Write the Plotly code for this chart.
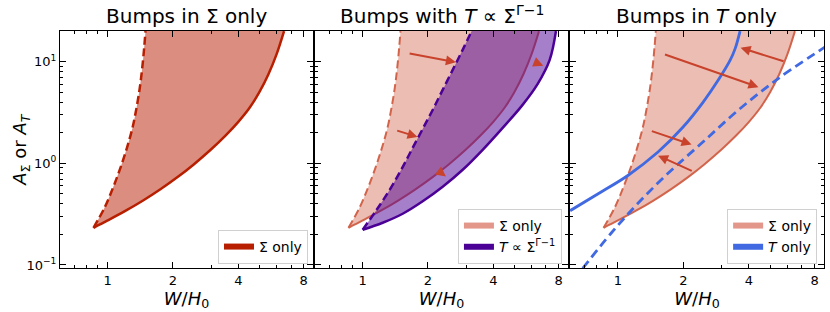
import plotly.graph_objects as go
import numpy as np

# ---------------- data ----------------
sig_dash_x = [0.86, 0.967, 1.058, 1.145, 1.227, 1.301, 1.358, 1.406, 1.443, 1.473, 1.494]
sig_dash_y = [0.232, 0.365, 0.574, 0.903, 1.42, 2.23, 3.51, 5.52, 8.68, 13.7, 20.0]
sig_solid_x = [0.86, 1.0, 1.2, 1.45, 1.75, 2.1, 2.5, 3.0, 3.5, 4.0, 4.5, 5.0, 5.5, 6.0, 6.5]
sig_solid_y = [0.232, 0.274, 0.338, 0.428, 0.555, 0.732, 0.981, 1.375, 1.886, 2.56, 3.50, 5.01, 7.48, 11.8, 20.0]

pow_dash_x = [1.0, 1.16, 1.332, 1.505, 1.682, 1.881, 2.102, 2.338, 2.60, 2.89, 3.18]
pow_dash_y = [0.222, 0.349, 0.549, 0.864, 1.359, 2.136, 3.35, 5.28, 8.30, 13.08, 20.0]
pow_solid_x = [1.0, 1.2365, 1.529, 1.891, 2.338, 2.891, 3.574, 4.42, 5.46, 6.41, 7.28, 7.78]
pow_solid_y = [0.222, 0.260, 0.319, 0.423, 0.588, 0.864, 1.359, 2.235, 3.76, 6.05, 10.42, 20.0]

tonly_solid_x = [0.604, 0.809, 1.112, 1.529, 1.993, 2.465, 2.891, 3.283, 3.462, 3.64]
tonly_solid_y = [0.342, 0.499, 0.759, 1.291, 2.275, 4.005, 6.59, 10.4, 13.6, 20.0]
tonly_dash_x = [0.690, 0.931, 1.237, 1.700, 2.421, 3.574, 5.465, 8.50, 9.03]
tonly_dash_y = [0.0928, 0.205, 0.404, 0.797, 1.573, 3.342, 6.85, 13.02, 14.2]

# arrows: (tail_x, tail_y, head_x, head_y)
arrows_mid = [(1.62, 12.1, 2.69, 9.9), (1.42, 2.12, 1.79, 1.82),
              (2.24, 0.84, 2.42, 0.74), (6.12, 10.0, 6.8, 9.1)]
arrows_right = [(5.86, 10.0, 3.66, 13.7), (1.62, 11.9, 4.42, 5.62),
                (1.41, 2.10, 2.18, 1.53), (2.22, 0.83, 1.53, 1.19)]

titles = ["Bumps in Σ only", "Bumps with <i>T</i> ∝ Σ<sup>Γ−1</sup>", "Bumps in <i>T</i> only"]
x_ticks = [1, 2, 4, 8]
y_ticks = [0.1, 1, 10]
y_ticktext = ["10<sup>−1</sup>", "10<sup>0</sup>", "10<sup>1</sup>"]

# ---------------- style ----------------
RED = "#b81e00"
RED_FILL1 = "rgba(184,30,0,0.5)"
RED_LIGHT_LINE = "#d2644c"
RED_FILL2 = "rgba(210,100,75,0.42)"
RED_LEG = "#e3968a"
PURPLE = "#4b0096"
PURPLE_FILL = "rgba(75,0,150,0.5)"
BLUE = "#4169e1"
ARROW = "#c8422c"
FONT = "DejaVu Sans"

fig = go.Figure()
axes = [("x", "y"), ("x2", "y2"), ("x3", "y3")]

# Panel 1
fig.add_trace(go.Scatter(x=sig_dash_x, y=sig_dash_y, mode="lines", xaxis="x", yaxis="y",
                         line=dict(color=RED, width=2.5, dash="8px,4px", shape="spline"),
                         showlegend=False))
fig.add_trace(go.Scatter(x=sig_solid_x, y=sig_solid_y, mode="lines", xaxis="x", yaxis="y",
                         fill="tonexty", fillcolor=RED_FILL1,
                         line=dict(color=RED, width=2.5, shape="spline"), showlegend=False))
fig.add_trace(go.Scatter(x=[None], y=[None], mode="none", fill="toself", fillcolor=RED,
                         name="Σ only", legend="legend", xaxis="x", yaxis="y"))

# Panels 2 and 3: Sigma-only region (light)
for xa, ya in axes[1:]:
    fig.add_trace(go.Scatter(x=sig_dash_x, y=sig_dash_y, mode="lines", xaxis=xa, yaxis=ya,
                             line=dict(color=RED_LIGHT_LINE, width=2, dash="8px,4px", shape="spline"),
                             showlegend=False))
    fig.add_trace(go.Scatter(x=sig_solid_x, y=sig_solid_y, mode="lines", xaxis=xa, yaxis=ya,
                             fill="tonexty", fillcolor=RED_FILL2,
                             line=dict(color=RED_LIGHT_LINE, width=2, shape="spline"), showlegend=False))

# Panel 2: power-law region
fig.add_trace(go.Scatter(x=pow_dash_x, y=pow_dash_y, mode="lines", xaxis="x2", yaxis="y2",
                         line=dict(color=PURPLE, width=2.5, dash="8px,4px", shape="spline"),
                         showlegend=False))
fig.add_trace(go.Scatter(x=pow_solid_x, y=pow_solid_y, mode="lines", xaxis="x2", yaxis="y2",
                         fill="tonexty", fillcolor=PURPLE_FILL,
                         line=dict(color=PURPLE, width=2.5, shape="spline"), showlegend=False))
fig.add_trace(go.Scatter(x=[None], y=[None], mode="none", fill="toself", fillcolor=RED_LEG,
                         name="Σ only", legend="legend2", xaxis="x2", yaxis="y2"))
fig.add_trace(go.Scatter(x=[None], y=[None], mode="none", fill="toself", fillcolor=PURPLE,
                         name="<i>T</i> ∝ Σ<sup>Γ−1</sup>", legend="legend2", xaxis="x2", yaxis="y2"))

# Panel 3: T-only curves
fig.add_trace(go.Scatter(x=tonly_solid_x, y=tonly_solid_y, mode="lines", xaxis="x3", yaxis="y3",
                         line=dict(color=BLUE, width=2.8, shape="spline"), showlegend=False))
fig.add_trace(go.Scatter(x=tonly_dash_x, y=tonly_dash_y, mode="lines", xaxis="x3", yaxis="y3",
                         line=dict(color=BLUE, width=2.8, dash="9px,5px", shape="spline"),
                         showlegend=False))
fig.add_trace(go.Scatter(x=[None], y=[None], mode="none", fill="toself", fillcolor=RED_LEG,
                         name="Σ only", legend="legend3", xaxis="x3", yaxis="y3"))
fig.add_trace(go.Scatter(x=[None], y=[None], mode="none", fill="toself", fillcolor=BLUE,
                         name="<i>T</i> only", legend="legend3", xaxis="x3", yaxis="y3"))

# arrows
annotations = []
for (xa, ya), arr in [(axes[1], arrows_mid), (axes[2], arrows_right)]:
    for tx, ty, hx, hy in arr:
        annotations.append(dict(x=np.log10(hx), y=np.log10(hy), ax=np.log10(tx), ay=np.log10(ty),
                                xref=xa, yref=ya, axref=xa, ayref=ya, text="", showarrow=True,
                                arrowhead=2, arrowsize=1.0, arrowwidth=2, arrowcolor=ARROW))

# titles
domains = [[0.0, 0.3312], [0.3338, 0.6649], [0.6675, 1.0]]
for d, t in zip(domains, titles):
    annotations.append(dict(x=(d[0] + d[1]) / 2, y=1.0, xref="paper", yref="paper", text=t,
                            showarrow=False, xanchor="center", yanchor="bottom", yshift=1,
                            font=dict(family=FONT, size=20, color="black")))
annotations.append(dict(x=-0.052, y=0.5, xref="paper", yref="paper",
                        text="<i>A</i><sub>Σ</sub> or <i>A</i><sub><i>T</i></sub>",
                        textangle=-90, showarrow=False, xanchor="center", yanchor="middle",
                        font=dict(family=FONT, size=18, color="black")))

xrange = [np.log10(0.603), np.log10(8.84)]
yrange = [-1.03, 1.302]
x_minor = [0.6, 0.7, 0.8, 0.9, 3, 5, 6, 7]
y_minor = [v * 10.0 ** e for e in (-2, -1, 0, 1) for v in range(2, 10)]

common_x = dict(type="log", range=xrange, tickvals=x_ticks, ticktext=[str(v) for v in x_ticks],
                ticks="inside", ticklen=6, tickwidth=1, tickcolor="black",
                showline=True, linecolor="black", linewidth=1, mirror="allticks",
                showgrid=False, zeroline=False,
                minor=dict(tickvals=x_minor, ticks="inside", ticklen=3, tickcolor="black", showgrid=False),
                tickfont=dict(family=FONT, size=13, color="black"),
                title=dict(text="<i>W</i>/<i>H</i><sub>0</sub>", standoff=2,
                           font=dict(family=FONT, size=18, color="black")))
common_y = dict(type="log", range=yrange, tickvals=y_ticks, ticktext=y_ticktext,
                ticks="inside", ticklen=6, tickwidth=1, tickcolor="black",
                showline=True, linecolor="black", linewidth=1, mirror="allticks",
                showgrid=False, zeroline=False,
                minor=dict(tickvals=y_minor, ticks="inside", ticklen=3, tickcolor="black", showgrid=False),
                tickfont=dict(family=FONT, size=13, color="black"))

layout = dict(width=830, height=312, margin=dict(l=60, r=6, t=31, b=44),
              paper_bgcolor="white", plot_bgcolor="white",
              font=dict(family=FONT, size=13, color="black"),
              annotations=annotations)
for i, d in enumerate(domains):
    sx = "" if i == 0 else str(i + 1)
    xa = dict(common_x, domain=d, anchor="y" + sx)
    ya = dict(common_y, domain=[0, 1], anchor="x" + sx)
    if i > 0:
        ya["showticklabels"] = False
    layout["xaxis" + sx] = xa
    layout["yaxis" + sx] = ya

leg_common = dict(xanchor="right", yanchor="bottom", bgcolor="white", bordercolor="#d0d0d0",
                  borderwidth=1, font=dict(family=FONT, size=14, color="black"),
                  itemwidth=30, tracegroupgap=0)
layout["legend"] = dict(leg_common, x=0.3246, y=0.017)
layout["legend2"] = dict(leg_common, x=0.657, y=0.017)
layout["legend3"] = dict(leg_common, x=0.991, y=0.017)

fig.update_layout(**layout)
fig.write_html("out.html", config={"displayModeBar": False},
               post_script="document.body.style.margin='0px';")
